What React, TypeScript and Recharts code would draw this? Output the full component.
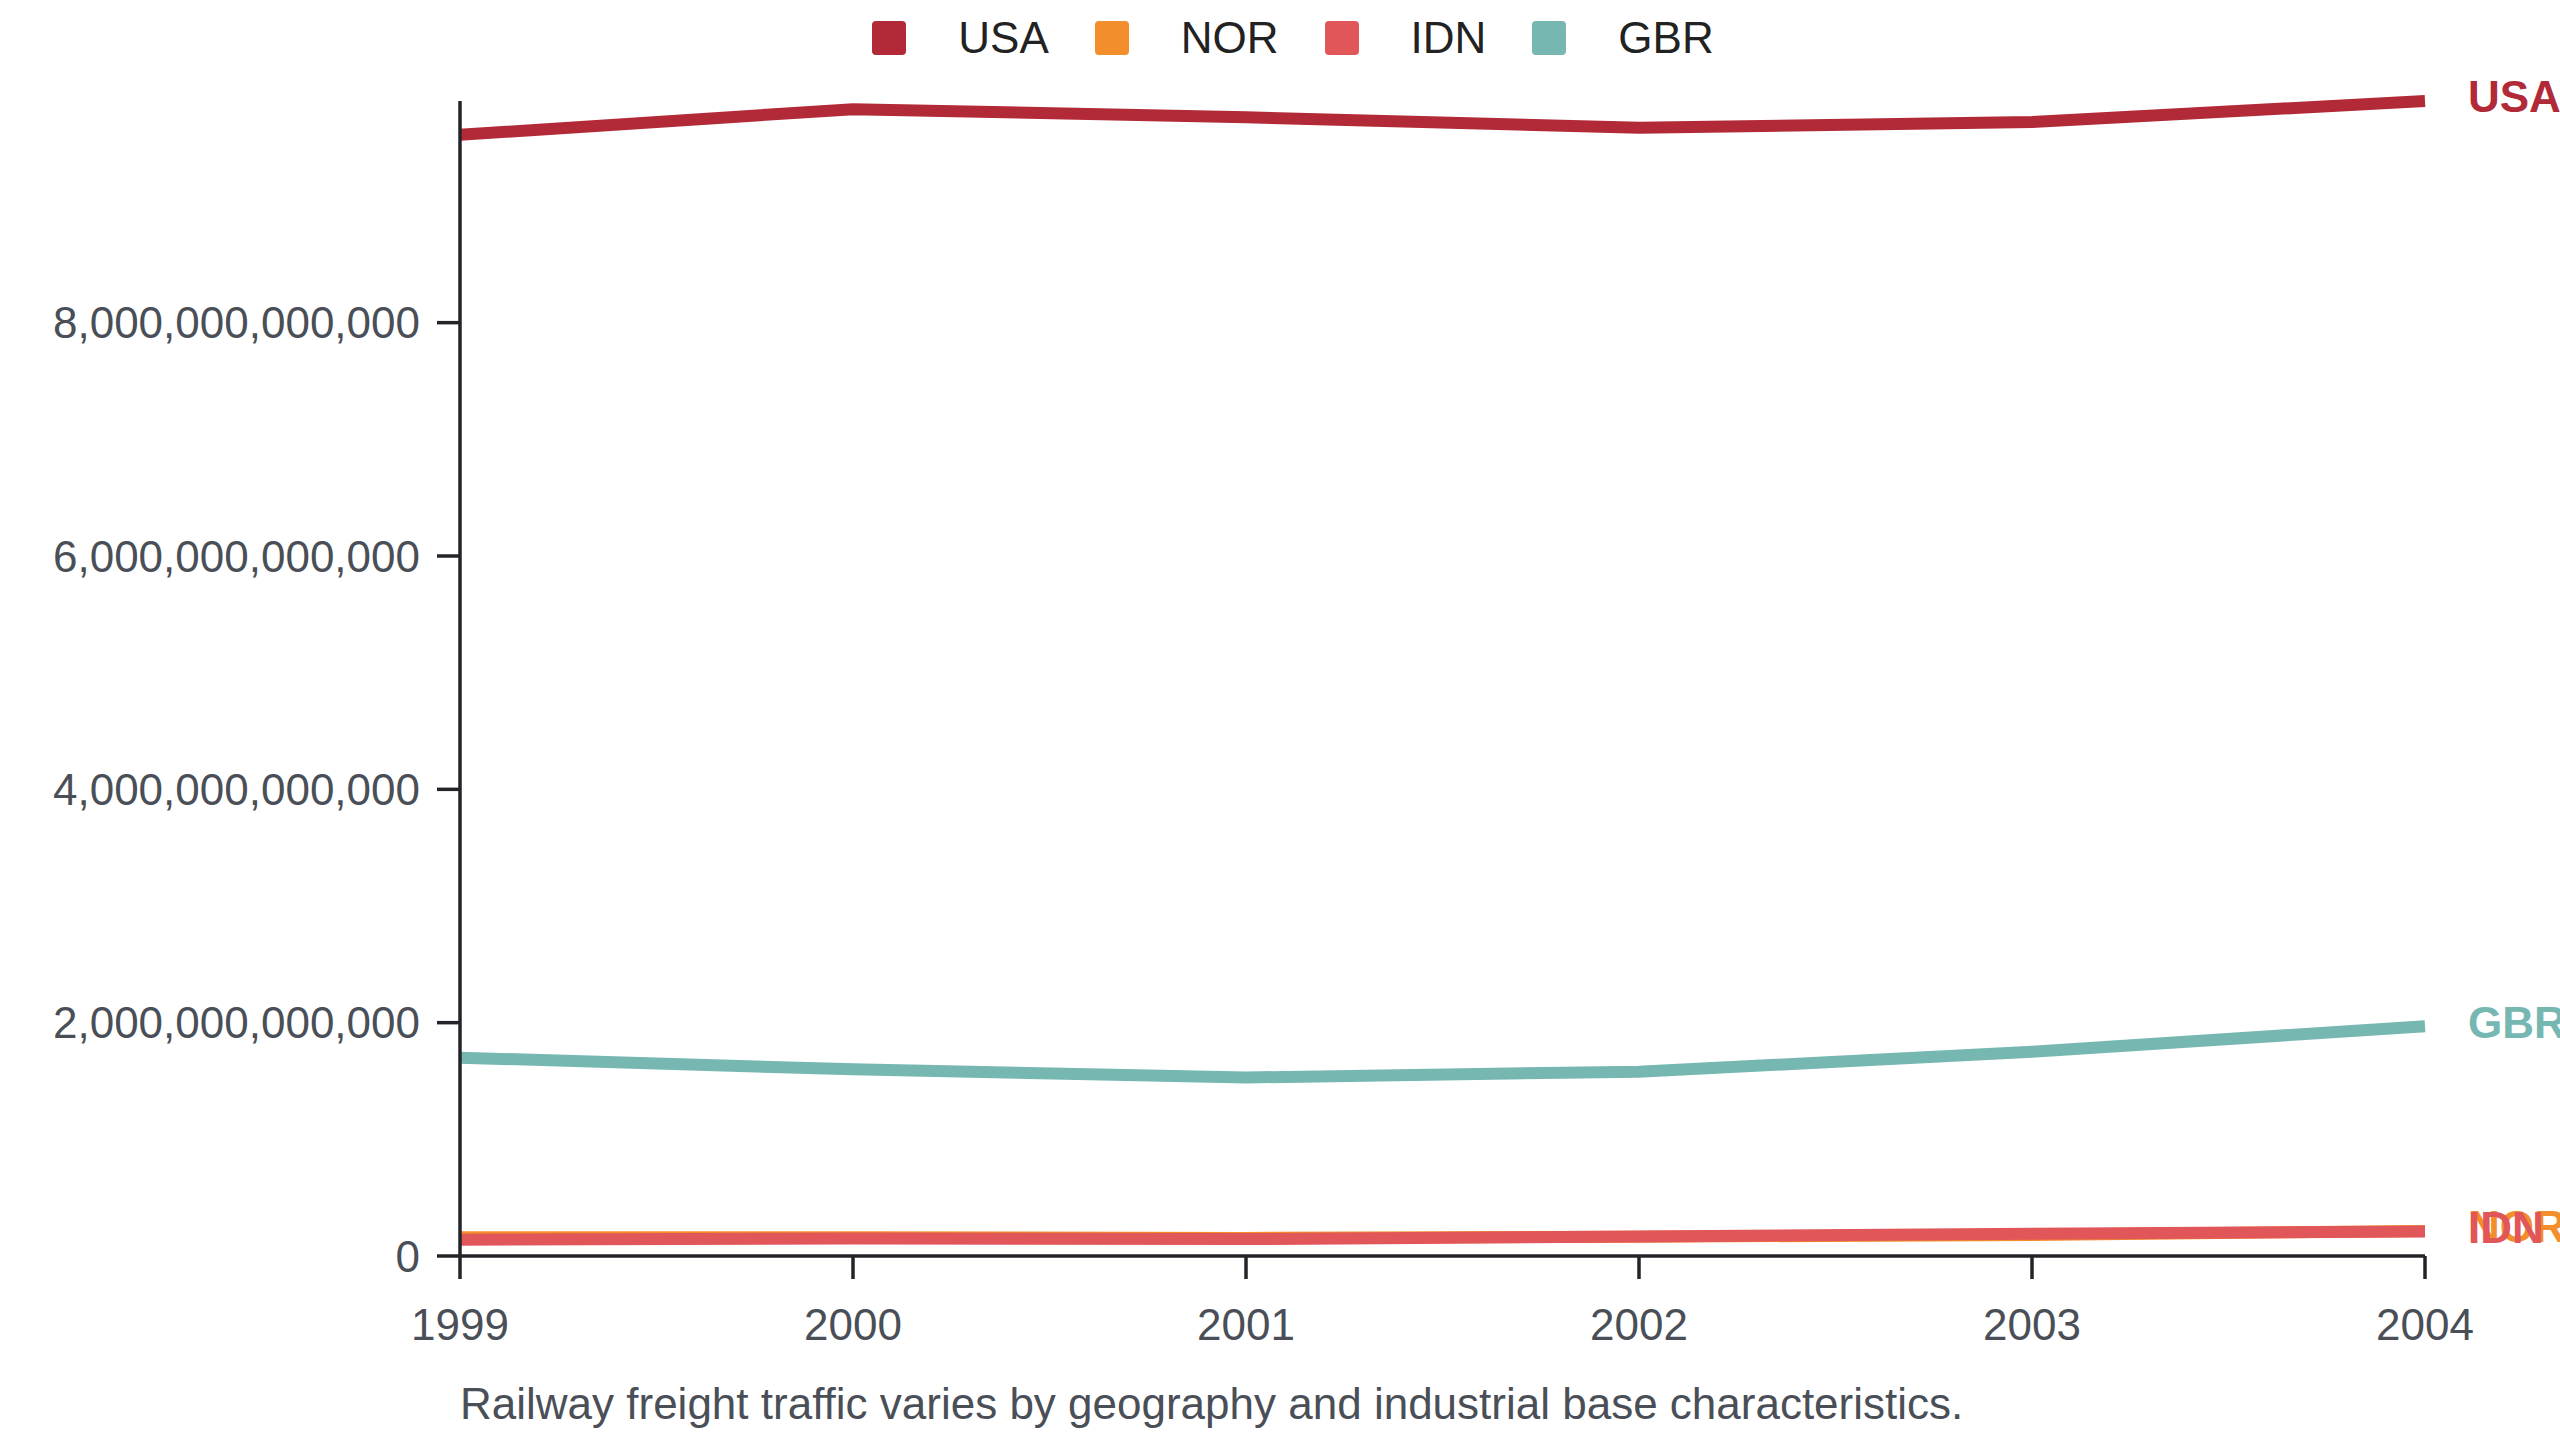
import { Legend, Line, LineChart, XAxis, YAxis } from "recharts";

const years = ["1999", "2000", "2001", "2002", "2003", "2004"];
const usa = [9.61e12, 9.83e12, 9.76e12, 9.67e12, 9.72e12, 9.9e12];
const nor = [0.16e12, 0.16e12, 0.155e12, 0.165e12, 0.18e12, 0.215e12];
const idn = [0.14e12, 0.15e12, 0.145e12, 0.167e12, 0.19e12, 0.21e12];
const gbr = [1.7e12, 1.6e12, 1.53e12, 1.58e12, 1.75e12, 1.97e12];
const yTicks = [0, 2e12, 4e12, 6e12, 8e12];
const caption = "Railway freight traffic varies by geography and industrial base characteristics.";

const series = [
  { key: "USA", values: usa, color: "#b22a37" },
  { key: "NOR", values: nor, color: "#f28e2b" },
  { key: "IDN", values: idn, color: "#e15759" },
  { key: "GBR", values: gbr, color: "#76b7b2" },
];

const data = years.map((year, i) => {
  const row: Record<string, string | number> = { year };
  series.forEach((s) => (row[s.key] = s.values[i]));
  return row;
});

const FONT = "'Liberation Sans', Arial, sans-serif";
const AXIS = "#222429";
const TICK_TEXT = "#4a4f57";

function LegendRow() {
  return (
    <div
      style={{
        height: 76,
        display: "flex",
        alignItems: "center",
        justifyContent: "center",
        paddingLeft: 26,
        fontFamily: FONT,
        fontSize: 44,
        color: "#222",
      }}
    >
      {series.map((s, i) => (
        <div key={s.key} style={{ display: "flex", alignItems: "center", marginLeft: i ? 46 : 0 }}>
          <span style={{ width: 34, height: 34, borderRadius: 4, background: s.color, marginRight: 52 }} />
          <span>{s.key}</span>
        </div>
      ))}
    </div>
  );
}

// name label at the last point of each line
function endLabel(name: string, color: string) {
  return (props: any) => {
    if (props.index !== years.length - 1) return null;
    return (
      <text
        key={name}
        x={props.x + 43}
        y={props.y}
        dy="0.26em"
        fill={color}
        fontSize={44}
        fontWeight="bold"
        fontFamily={FONT}
      >
        {name}
      </text>
    );
  };
}

export default function App() {
  return (
    <div
      style={{
        position: "absolute",
        left: 0,
        top: 0,
        width: 2560,
        height: 1440,
        overflow: "hidden",
        background: "#fff",
        fontFamily: FONT,
      }}
    >
      <LineChart width={2560} height={1440} data={data} margin={{ top: 25, right: 135, left: 0, bottom: 84 }}>
        <Legend verticalAlign="top" wrapperStyle={{ top: 0, left: 0, width: 2560 }} content={() => <LegendRow />} />
        <XAxis
          dataKey="year"
          height={100}
          stroke={AXIS}
          strokeWidth={3.5}
          tickSize={23}
          tickMargin={30}
          tick={{ fill: TICK_TEXT, fontSize: 44, fontFamily: FONT }}
          interval={0}
        />
        <YAxis
          width={460}
          domain={[0, "dataMax"]}
          ticks={yTicks}
          stroke={AXIS}
          strokeWidth={3.5}
          tickSize={23}
          tickMargin={17}
          tick={{ fill: TICK_TEXT, fontSize: 44, fontFamily: FONT }}
          tickFormatter={(v: number) => v.toLocaleString("en-US")}
        />
        {series.map((s) => (
          <Line
            key={s.key}
            dataKey={s.key}
            stroke={s.color}
            strokeWidth={12}
            dot={false}
            activeDot={false}
            isAnimationActive={false}
            label={endLabel(s.key, s.color)}
          />
        ))}
      </LineChart>
      <div
        style={{
          position: "absolute",
          left: 460,
          top: 1378,
          fontSize: 44,
          lineHeight: "52px",
          color: TICK_TEXT,
          fontFamily: FONT,
          whiteSpace: "nowrap",
        }}
      >
        {caption}
      </div>
    </div>
  );
}
